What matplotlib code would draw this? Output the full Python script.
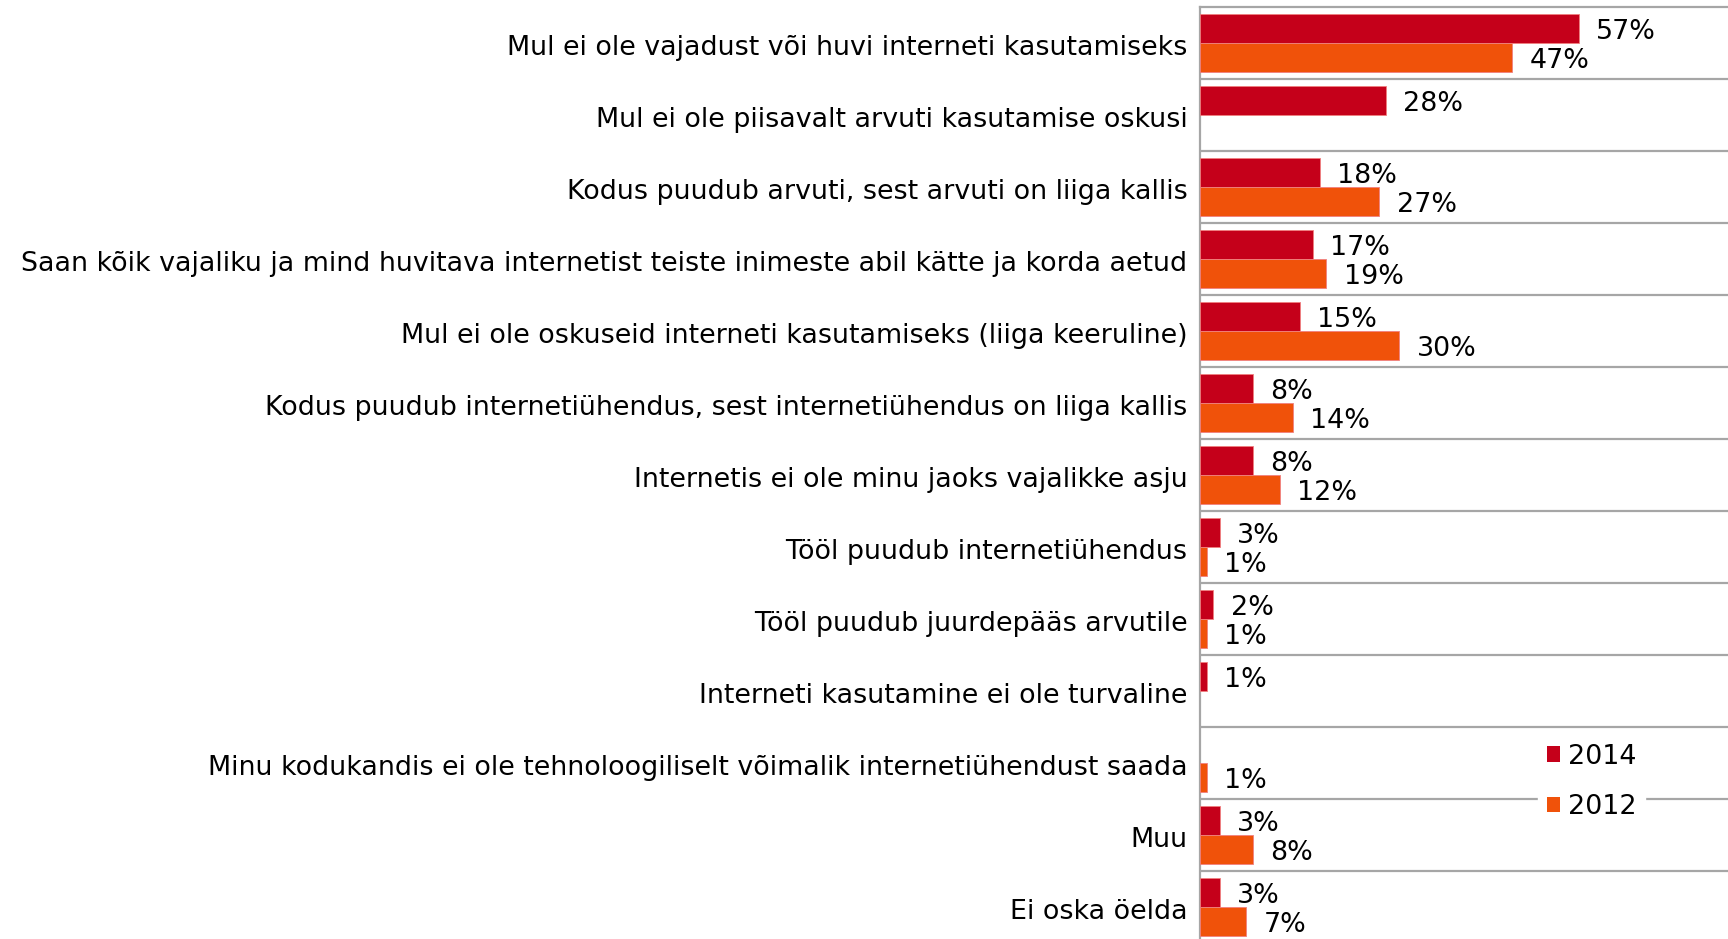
import matplotlib
matplotlib.use("Agg")
import matplotlib.pyplot as plt
import matplotlib.transforms as mtrans
from matplotlib.patches import Patch
import numpy as np

categories = [
    "Mul ei ole vajadust või huvi interneti kasutamiseks",
    "Mul ei ole piisavalt arvuti kasutamise oskusi",
    "Kodus puudub arvuti, sest arvuti on liiga kallis",
    "Saan kõik vajaliku ja mind huvitava internetist teiste inimeste abil kätte ja korda aetud",
    "Mul ei ole oskuseid interneti kasutamiseks (liiga keeruline)",
    "Kodus puudub internetiühendus, sest internetiühendus on liiga kallis",
    "Internetis ei ole minu jaoks vajalikke asju",
    "Tööl puudub internetiühendus",
    "Tööl puudub juurdepääs arvutile",
    "Interneti kasutamine ei ole turvaline",
    "Minu kodukandis ei ole tehnoloogiliselt võimalik internetiühendust saada",
    "Muu",
    "Ei oska öelda",
]
# None = no bar for that year
vals_2014 = [57, 28, 18, 17, 15, 8, 8, 3, 2, 1, None, 3, 3]
vals_2012 = [47, None, 27, 19, 30, 14, 12, 1, 1, None, 1, 8, 7]

c2014 = "#C5001A"
c2012 = "#F0520A"
grid_col = "#A6A6A6"
fs = 19.4

plt.rcParams['font.family'] = ['DejaVu Sans']

fig = plt.figure(figsize=(17.28, 9.39), dpi=100)
ax = fig.add_axes([1200 / 1728, 0.0, 1 - 1200 / 1728, 1 - 7 / 939])

y = np.arange(len(categories))
h = 0.4

for vals, off, col in [(vals_2014, -h / 2, c2014), (vals_2012, h / 2, c2012)]:
    for i, v in enumerate(vals):
        if v is None:
            continue
        ax.barh(y[i] + off, v, height=h, color=col, edgecolor="#F08080", linewidth=0.6, zorder=3)
        ax.annotate(f"{v}%", (v, y[i] + off), xytext=(12.5, -2.5), textcoords="offset points",
                    ha="left", va="center", fontsize=fs, color="black", zorder=4)

# separators between categories
for b in np.arange(0.5, len(categories) - 1, 1.0):
    ax.axhline(b, color=grid_col, linewidth=1.6, zorder=1)

ax.set_xlim(0, 79.5)
ax.set_ylim(-0.5 + 932 / 72, -0.5)
ax.set_xticks([])
ax.set_yticks(y)
ax.set_yticklabels(categories, fontsize=fs)
ax.tick_params(axis="y", length=0, pad=9)
shift = mtrans.ScaledTranslation(0, -1.5 / 72, fig.dpi_scale_trans)
for lab in ax.get_yticklabels():
    lab.set_transform(lab.get_transform() + shift)

for s in ["right", "bottom"]:
    ax.spines[s].set_visible(False)
for s in ["left", "top"]:
    ax.spines[s].set_color(grid_col)
    ax.spines[s].set_linewidth(1.6)

handles = [Patch(facecolor=c2014, label="2014"), Patch(facecolor=c2012, label="2012")]
leg = fig.legend(handles=handles, loc="upper left", bbox_to_anchor=(1525 / 1728, 1 - 722 / 939),
                 frameon=True, fontsize=fs, handlelength=0.5, handleheight=0.5,
                 handletextpad=0.3, labelspacing=0.9, borderpad=0.3, fancybox=False)
leg.get_frame().set_edgecolor("white")
leg.get_frame().set_facecolor("white")
leg.get_frame().set_alpha(1)

fig.savefig("out.png", dpi=100)
